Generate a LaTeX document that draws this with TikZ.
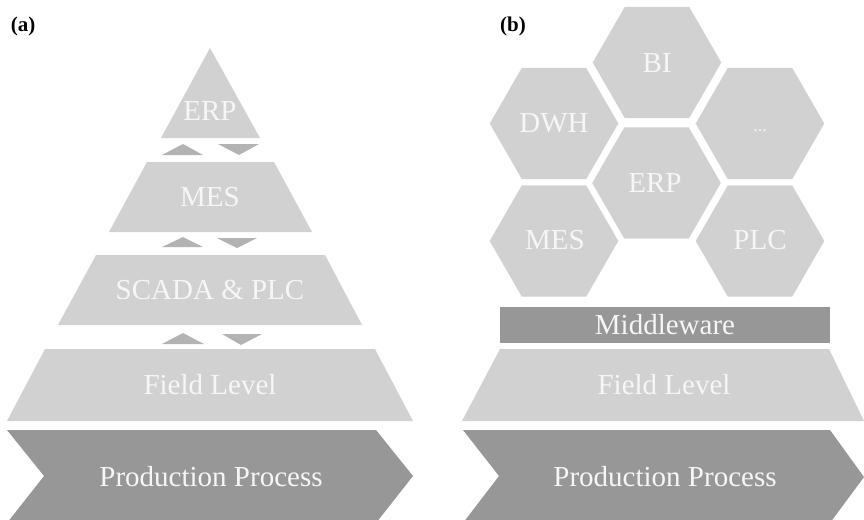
\documentclass[tikz,border=0pt]{standalone}
\usepackage{fontspec}
\setmainfont{Liberation Serif}
\begin{document}
\begin{tikzpicture}[x=1pt,y=-1pt,
  lightfill/.style={fill=lightgrey},
  darkfill/.style={fill=darkgrey},
  arrowfill/.style={fill=arrowgrey},
  lbl/.style={text=labelwhite,font=\fontsize{29}{34}\selectfont,inner sep=0pt},
  panel/.style={font=\fontsize{21}{24}\selectfont\bfseries,inner sep=0pt},
  hexa/.pic={\fill[lightfill] (-64.3,0) -- (-32.15,-55.7) -- (32.15,-55.7) -- (64.3,0) -- (32.15,55.7) -- (-32.15,55.7) -- cycle;}
]
\definecolor{lightgrey}{HTML}{D0D1D0}
\definecolor{darkgrey}{HTML}{979797}
\definecolor{arrowgrey}{HTML}{B3B3B3}
\definecolor{labelwhite}{HTML}{F6F6F6}
\useasboundingbox (0,0) rectangle (864,519);
\clip (0,0) rectangle (864,519);

% ---------- panel (a) ----------
\node[panel] (pa) at (23,26) {(a)};

\fill[lightfill] (210,48) -- (260,138) -- (161,138) -- cycle;
\node[lbl] (erpA) at (210,111) {ERP};

\fill[arrowfill] (183,144) -- (203,155) -- (162,155) -- cycle;
\fill[arrowfill] (218,144) -- (259,144) -- (239,155) -- cycle;

\fill[lightfill] (147,162) -- (274,162) -- (312,232) -- (109,232) -- cycle;
\node[lbl] (mesA) at (210,197) {MES};

\fill[arrowfill] (183,237) -- (203,247) -- (162,247) -- cycle;
\fill[arrowfill] (217,238) -- (257,238) -- (237,248) -- cycle;

\fill[lightfill] (96,255) -- (325,255) -- (362,325) -- (58,325) -- cycle;
\node[lbl] (scada) at (210,290) {SCADA \& PLC};

\fill[arrowfill] (183,333) -- (204,344) -- (162,344) -- cycle;
\fill[arrowfill] (222,334) -- (262,334) -- (241,345) -- cycle;

\fill[lightfill] (45,349) -- (375,349) -- (413,421) -- (7,421) -- cycle;
\node[lbl] (fieldA) at (210,385) {Field Level};

\fill[darkfill] (7,430) -- (376,430) -- (413,476) -- (376,523) -- (7,523) -- (44,476) -- cycle;
\node[lbl] (prodA) at (211,477) {Production Process};

% ---------- panel (b) ----------
\node[panel] (pb) at (513,26) {(b)};

\pic at (657,62.5) {hexa};
\pic at (554,123.5) {hexa};
\pic at (760,123.5) {hexa};
\pic at (656.5,183) {hexa};
\pic at (554,241) {hexa};
\pic at (760,241) {hexa};

\node[lbl] (bi) at (657,63) {BI};
\node[lbl] (dwh) at (554,123) {DWH};
\node[lbl,font=\fontsize{18}{20}\selectfont] (dots) at (760,131) {...};
\node[lbl] (erpB) at (655,183) {ERP};
\node[lbl] (mesB) at (555,240) {MES};
\node[lbl] (plc) at (760,240) {PLC};

\fill[darkfill] (500,307) rectangle (830,343);
\node[lbl] (mw) at (665,325) {Middleware};

\fill[lightfill] (500,349) -- (829,349) -- (864,421) -- (462,421) -- cycle;
\node[lbl] (fieldB) at (664,385) {Field Level};

\fill[darkfill] (463,430) -- (830,430) -- (864,477) -- (830,523) -- (463,523) -- (499,476) -- cycle;
\node[lbl] (prodB) at (665,477) {Production Process};
\end{tikzpicture}
\end{document}
